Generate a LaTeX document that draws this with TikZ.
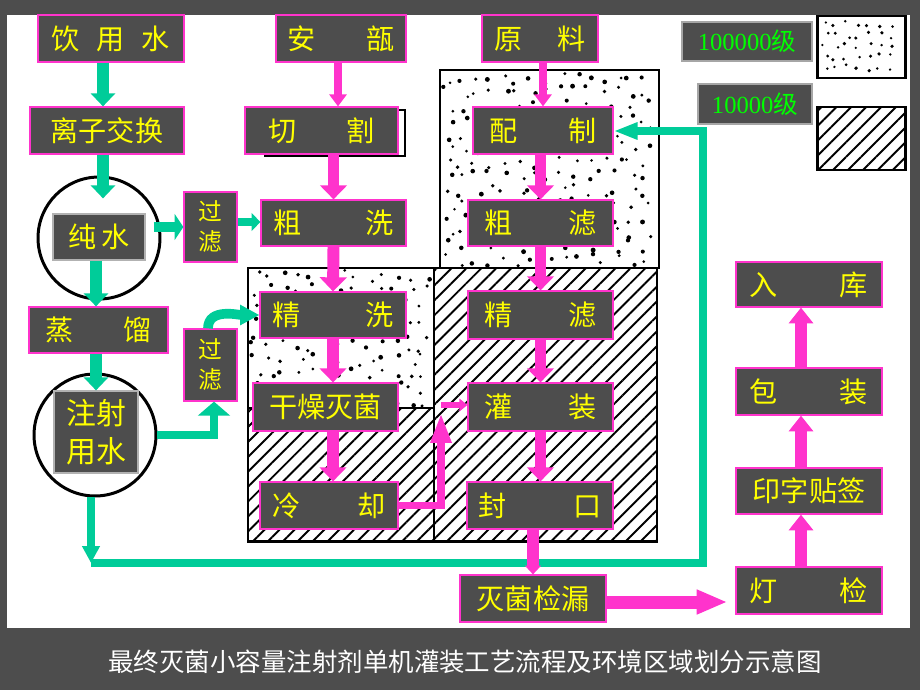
\documentclass[tikz,border=0pt]{standalone}
\usepackage{fontspec}
\setmainfont{Noto Sans CJK SC}
\newfontfamily\digits{Liberation Serif}
\usetikzlibrary{arrows.meta,patterns.meta}
\definecolor{panel}{HTML}{4D4D4D}
\definecolor{mag}{HTML}{FF33CC}
\definecolor{grn}{HTML}{00CC99}
\definecolor{lime}{HTML}{00FF00}
\definecolor{ylw}{HTML}{FFFF00}

\begin{document}
\begin{tikzpicture}[x=0.02cm,y=-0.02cm,
  proc/.style={draw=mag,line width=0.7pt,fill=panel,text=ylw,inner sep=0pt,
    minimum width=2.92cm,minimum height=0.94cm,font=\fontsize{16}{18}\selectfont},
  water/.style={proc,draw=gray!60},
  tank/.style={circle,draw,line width=1.7pt,minimum size=2.44cm,inner sep=0pt},
  zone/.style={draw,line width=1.7pt},
  hatch/.style={pattern={Lines[angle=45,distance=6pt,line width=1.1pt]}},
  gpipe/.style={draw=grn,line width=6.8pt,-{Triangle[length=7.4pt,width=13.6pt]}},
  gthin/.style={draw=grn,line width=4.5pt,-{Triangle[length=5pt,width=10pt]}},
  mpipe/.style={draw=mag,line width=6.8pt,-{Triangle[length=8pt,width=15pt]}},
  mthin/.style={draw=mag,line width=4.5pt,-{Triangle[length=6.8pt,width=9.6pt]}}]

\fill[panel] (0,0) rectangle (920,690);
\fill[white] (7,15) rectangle (910,628);

% clean zones
\path[hatch] (434,268) rectangle (657,541);
\path[hatch] (248,408) rectangle (434,541);
\pgfmathsetseed{12}
\foreach \x in {449,463,...,652} \foreach \y in {78,92,...,262} \fill ({\x+12*rnd-6},{\y+12*rnd-6}) circle ({0.8pt+0.6pt*rnd});
\foreach \x in {256,270,...,428} \foreach \y in {276,290,...,402} \fill ({\x+12*rnd-6},{\y+12*rnd-6}) circle ({0.8pt+0.6pt*rnd});
\foreach \x in {825,836,...,898} \foreach \y in {24,35,...,70} \fill ({\x+7*rnd-3.5},{\y+7*rnd-3.5}) circle ({0.7pt+0.4pt*rnd});
\draw[zone] (440,70) rectangle (659,268);
\draw[zone] (248,268) rectangle (657,541);
\draw[zone] (434,268) -- (434,541);
\draw[zone] (248,408) -- (434,408);
\draw[zone] (817,16) rectangle (905,78);
\draw[zone,hatch] (817,107) rectangle (905,170);

% legend
\node[water,draw=gray!70,text=lime,minimum width=2.6cm,minimum height=0.78cm,font=\fontsize{14}{16}\selectfont] (lv5) at (747,41.5) {{\digits 100000}级};
\node[water,draw=gray!70,text=lime,minimum width=2.28cm,minimum height=0.8cm,font=\fontsize{14}{16}\selectfont] (lv4) at (755,104) {{\digits 10000}级};

% nodes
\node[proc] (yinyong) at (111,38.5) {饮\hspace{0.6em}用\hspace{0.6em}水};
\node[proc,minimum width=2.6cm] (anbu) at (341,38.5) {安\hspace{1.8em}瓿};
\node[proc,minimum width=2.32cm] (yuanliao) at (540,38.5) {原\hspace{1.25em}料};
\node[proc,minimum width=3.08cm] (lizi) at (107,130.5) {离子交换};
\draw[line width=1.2pt] (265,110) rectangle (405,156);
\node[proc,minimum width=3.06cm] (qiege) at (321.5,130.5) {切\hspace{1.8em}割};
\node[proc,minimum width=2.8cm] (peizhi) at (543,130.5) {配\hspace{1.8em}制};
\node[tank] (ring1) at (99,238) {};
\node[water,minimum width=1.84cm,minimum height=0.92cm] (chunshui) at (99,237) {纯\hspace{0.15em}水};
\node[proc,minimum width=1.06cm,minimum height=1.4cm,font=\fontsize{13.5}{17}\selectfont,align=center] (guolv1) at (210.5,227) {过\\滤};
\node[proc,minimum width=2.9cm,minimum height=0.92cm] (cuxi) at (333.5,223) {粗\hspace{2.3em}洗};
\node[proc,minimum width=2.9cm,minimum height=0.92cm] (culv) at (540.5,223) {粗\hspace{2em}滤};
\node[proc,minimum width=2.78cm,minimum height=0.92cm] (zhengliu) at (98.5,330) {蒸\hspace{1.8em}馏};
\node[proc,minimum width=1.06cm,minimum height=1.44cm,font=\fontsize{13.5}{17}\selectfont,align=center] (guolv2) at (210.5,365) {过\\滤};
\node[tank] (ring2) at (95,435) {};
\node[water,minimum width=1.68cm,minimum height=1.64cm,font=\fontsize{17}{21.5}\selectfont,align=center] (zhushe) at (96,432) {注射\\用水};
\node[proc,minimum height=0.92cm] (jingxi) at (333,315) {精\hspace{2.3em}洗};
\node[proc,minimum width=2.9cm,minimum height=0.96cm] (ganzao) at (325.5,407) {干燥灭菌};
\node[proc,minimum width=2.76cm] (lengque) at (329,505.5) {冷\hspace{2em}却};
\node[proc,minimum width=2.9cm,minimum height=0.96cm] (jinglv) at (540.5,315) {精\hspace{2em}滤};
\node[proc,minimum width=2.9cm,minimum height=0.96cm] (guanzhuang) at (540.5,407) {灌\hspace{2em}装};
\node[proc] (fengkou) at (540,505.5) {封\hspace{2.4em}口};
\node[proc] (jianlou) at (533,598.5) {灭菌检漏};
\node[proc,minimum height=0.9cm] (ruku) at (809,284.5) {入\hspace{2.2em}库};
\node[proc] (baozhuang) at (809,391.5) {包\hspace{2.2em}装};
\node[proc,minimum height=0.92cm] (yinzi) at (809,491) {印字贴签};
\node[proc] (dengjian) at (809,590.5) {灯\hspace{2.2em}检};

% water lines
\draw[gpipe] (yinyong.south -| 103,0) -- (lizi.north -| 103,0);
\draw[gpipe,shorten >=0.3cm] (lizi.south -| 103,0) -- (chunshui.north -| 103,0);
\draw[gpipe] (chunshui.south -| 96,0) -- (zhengliu.north -| 96,0);
\draw[gpipe] (zhengliu.south -| 96,0) -- (zhushe.north -| 96,0);
\draw[gpipe,line width=6.2pt,shorten <=0.16cm,-{Triangle[length=5pt,width=14.7pt]}] (chunshui.east |- 0,227) -- (guolv1.west |- 0,227);
\draw[gthin] (guolv1.east |- 0,222) -- (cuxi.west |- 0,222);
\draw[gthin,-{Triangle[length=8pt,width=18pt]}] (ring2.east) -| ([xshift=0.07cm]guolv2.south);
\draw[gthin,line width=5.5pt,-{Triangle[length=11pt,width=11pt]}] ([xshift=-0.05cm]guolv2.north) to[out=90,in=180] (jingxi.west);
\coordinate (corner) at (91,563);
\coordinate (back) at (703,131);
\draw[gthin,line width=5pt,-{Triangle[length=9.6pt,width=9.6pt]}] (ring2.south -| corner) -- (corner);
\draw[gthin,-{Triangle[length=13.6pt,width=9pt]}] (corner) -| (back) -- (back -| peizhi.east);

% product lines
\draw[mthin] (anbu.south -| 338,0) -- (qiege.north -| 338,0);
\draw[mpipe] (qiege.south -| cuxi) -- (cuxi.north);
\draw[mpipe] (cuxi.south) -- (jingxi.north);
\draw[mpipe] (jingxi.south) -- (jingxi.south |- ganzao.north);
\draw[mpipe] (ganzao.south -| jingxi) -- (lengque.north -| jingxi);
\coordinate (riser) at (441,405);
\draw[mthin,-{Triangle[length=17pt,width=11pt]}] (lengque.east) -| ([yshift=-0.16cm]riser);
\draw[mthin,line width=3.4pt,-{Triangle[length=4.5pt,width=7pt]}] (riser) -- (guanzhuang.west |- riser);
\draw[mthin] (yuanliao.south -| peizhi) -- (peizhi.north);
\draw[mpipe] (peizhi.south -| culv) -- (culv.north);
\draw[mpipe] (culv.south) -- (jinglv.north);
\draw[mpipe] (jinglv.south) -- (guanzhuang.north);
\draw[mpipe] (guanzhuang.south) -- (guanzhuang.south |- fengkou.north);
\draw[mpipe,-{Triangle[length=5pt,width=9pt]}] (fengkou.south -| jianlou) -- (jianlou.north);
\draw[mpipe,line width=7.4pt,shorten >=0.16cm,-{Triangle[length=17.5pt,width=13pt]}] (jianlou.east |- 0,602) -- (dengjian.west |- 0,602);
\draw[mpipe,-{Triangle[length=9pt,width=13.6pt]}] (dengjian.north -| 801,0) -- (yinzi.south -| 801,0);
\draw[mpipe,-{Triangle[length=9pt,width=13.6pt]}] (yinzi.north -| 801,0) -- (baozhuang.south -| 801,0);
\draw[mpipe,-{Triangle[length=9pt,width=13.6pt]}] (baozhuang.north -| 801,0) -- (ruku.south -| 801,0);

\node[text=white,font=\fontsize{14.5}{16}\selectfont] (title) at (465,662) {最终灭菌小容量注射剂单机灌装工艺流程及环境区域划分示意图};
\end{tikzpicture}
\end{document}
